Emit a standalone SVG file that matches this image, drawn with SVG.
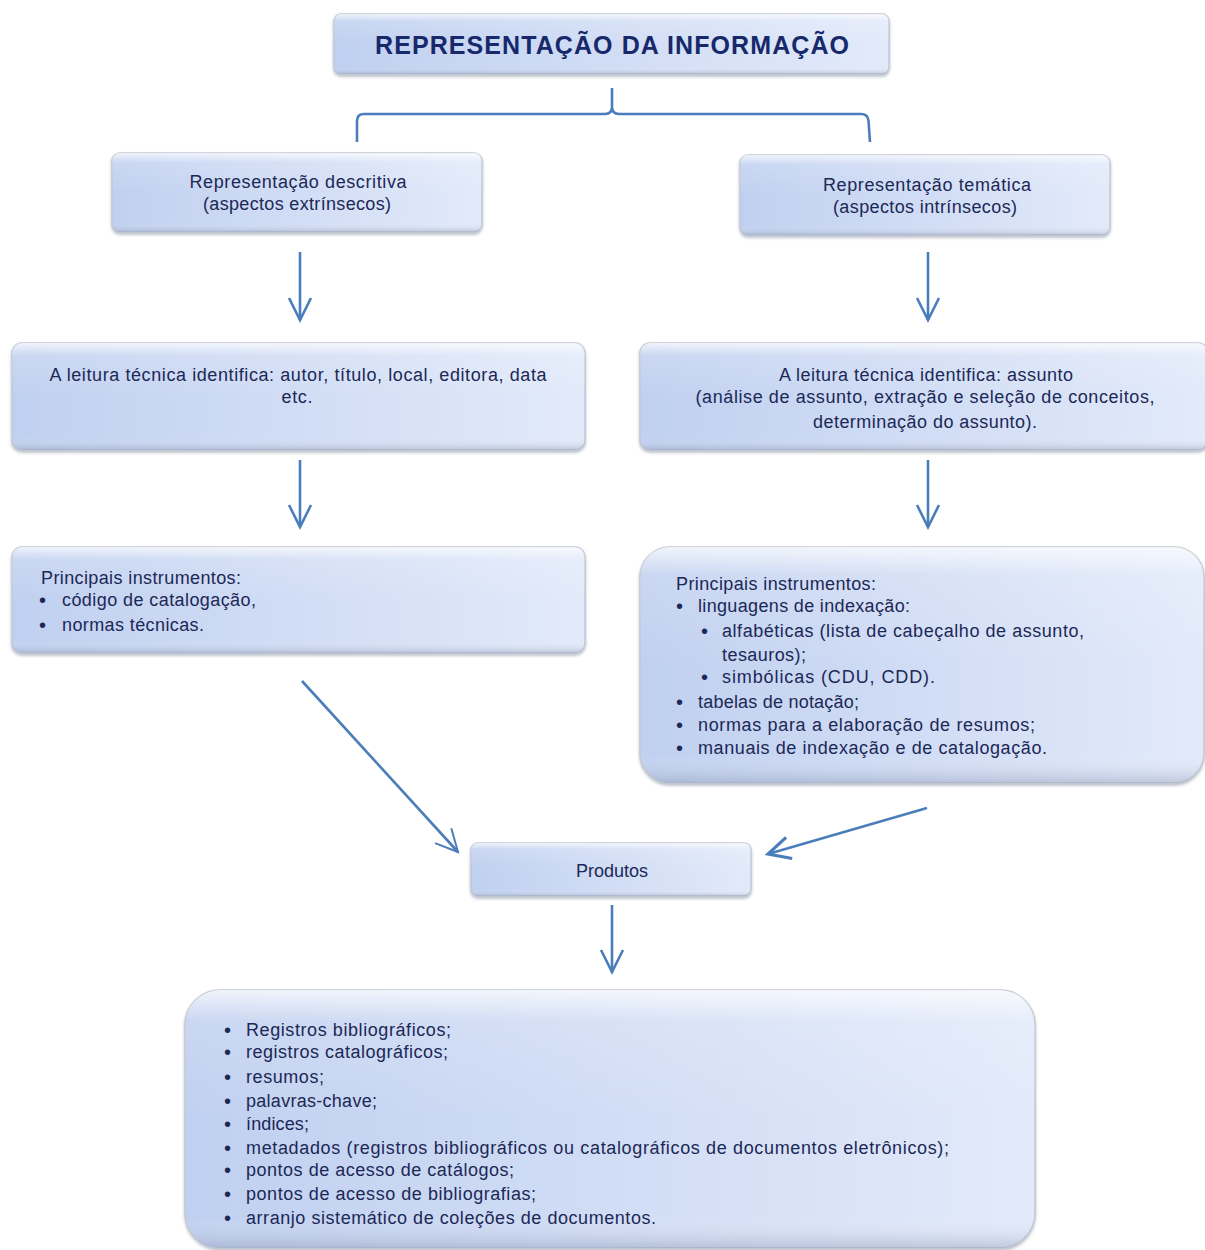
<svg xmlns="http://www.w3.org/2000/svg" width="1205" height="1250" viewBox="0 0 1205 1250">
<defs>
<linearGradient id="gBody" x1="0" y1="0" x2="1" y2="0">
<stop offset="0" stop-color="#c0d0f0"/>
<stop offset="1" stop-color="#e2eafa"/>
</linearGradient>
<linearGradient id="gBevel" x1="0" y1="0" x2="0" y2="1">
<stop offset="0" stop-color="#ffffff" stop-opacity="0.75"/>
<stop offset="0.12" stop-color="#ffffff" stop-opacity="0.15"/>
<stop offset="0.5" stop-color="#ffffff" stop-opacity="0"/>
<stop offset="0.88" stop-color="#ffffff" stop-opacity="0"/>
<stop offset="1" stop-color="#7d8aa6" stop-opacity="0.35"/>
</linearGradient>
<filter id="sh" x="-5%" y="-5%" width="110%" height="120%">
<feGaussianBlur in="SourceAlpha" stdDeviation="1.5"/>
<feOffset dx="0" dy="2" result="b"/>
<feFlood flood-color="#8a93a6" flood-opacity="0.6"/>
<feComposite in2="b" operator="in"/>
<feMerge><feMergeNode/><feMergeNode in="SourceGraphic"/></feMerge>
</filter>
<marker id="head" markerUnits="userSpaceOnUse" viewBox="0 0 26 26" refX="23" refY="13" markerWidth="26" markerHeight="26" orient="auto">
<path d="M1,2 L23,13 L1,24" fill="none" stroke="#4a7ebb" stroke-width="2.6"/>
</marker>
<marker id="headThin" markerUnits="userSpaceOnUse" viewBox="0 0 26 26" refX="23" refY="13" markerWidth="26" markerHeight="26" orient="auto">
<path d="M1,2 L23,13 L1,24" fill="none" stroke="#4a7ebb" stroke-width="2"/>
</marker>
<marker id="headThick" markerUnits="userSpaceOnUse" viewBox="0 0 26 26" refX="23" refY="13" markerWidth="26" markerHeight="26" orient="auto">
<path d="M1,2 L23,13 L1,24" fill="none" stroke="#4a7ebb" stroke-width="3.2"/>
</marker>
</defs>
<style>
.box { fill: url(#gBody); stroke: #c2c8d4; stroke-width: 1.5; filter: url(#sh); }
.bev { fill: url(#gBevel); stroke: none; }
.t { font-family: "Liberation Sans", Arial, sans-serif; font-size: 18px; fill: #1c2856; }
.b { font-family: "Liberation Sans", Arial, sans-serif; font-size: 20px; fill: #1c2856; }
.c { text-anchor: middle; }
.title { font-family: "Liberation Sans", Arial, sans-serif; font-size: 25px; font-weight: bold; fill: #17296a; text-anchor: middle; }
.con { fill: none; stroke: #4a7ebb; stroke-width: 2.6; }
</style>

<g id="connectors">
<path class="con" d="M357,142 L357,121 Q357,114 364,114 L605,114 Q612,114 612,107 L612,88 M612,107 Q612,114 619,114 L861,114 Q868,114 868.5,121 L870,142" stroke-width="3"/>
<line class="con" x1="300" y1="252" x2="300" y2="320" marker-end="url(#head)"/>
<line class="con" x1="928" y1="252" x2="928" y2="320" marker-end="url(#head)"/>
<line class="con" x1="300" y1="460" x2="300" y2="527" marker-end="url(#head)"/>
<line class="con" x1="928" y1="460" x2="928" y2="527" marker-end="url(#head)"/>
<line class="con" x1="302" y1="681" x2="458" y2="852" stroke-width="1.6" marker-end="url(#headThin)"/>
<line class="con" x1="927" y1="808" x2="768" y2="854" stroke-width="3.5" marker-end="url(#headThick)"/>
<line class="con" x1="612" y1="905" x2="612" y2="972" marker-end="url(#head)"/>
</g>

<g id="title">
<rect class="box" x="334" y="14" width="555" height="60" rx="7"/>
<rect class="bev" x="334" y="14" width="555" height="60" rx="7"/>
<text class="title" x="612" y="54" textLength="474">REPRESENTAÇÃO DA INFORMAÇÃO</text>
</g>

<g id="descritiva">
<rect class="box" x="112" y="153" width="370" height="79" rx="8"/>
<rect class="bev" x="112" y="153" width="370" height="79" rx="8"/>
<text class="t c" x="298" y="188" textLength="217">Representação  descritiva</text>
<text class="t c" x="297" y="210" textLength="188">(aspectos extrínsecos)</text>
</g>

<g id="tematica">
<rect class="box" x="740" y="155" width="370" height="80" rx="8"/>
<rect class="bev" x="740" y="155" width="370" height="80" rx="8"/>
<text class="t c" x="927" y="191" textLength="208">Representação  temática</text>
<text class="t c" x="925" y="213" textLength="184">(aspectos intrínsecos)</text>
</g>

<g id="leitura-descritiva">
<rect class="box" x="12" y="343" width="573" height="107" rx="10"/>
<rect class="bev" x="12" y="343" width="573" height="107" rx="10"/>
<text class="t c" x="298" y="381" textLength="497">A leitura técnica identifica:  autor,  título,  local,  editora,  data</text>
<text class="t c" x="297" y="403" textLength="31">etc.</text>
</g>

<g id="leitura-tematica">
<rect class="box" x="640" y="343" width="568" height="107" rx="10"/>
<rect class="bev" x="640" y="343" width="568" height="107" rx="10"/>
<text class="t c" x="926" y="381" textLength="294">A leitura técnica identifica:  assunto</text>
<text class="t c" x="925" y="403" textLength="459">(análise de  assunto,  extração  e seleção  de conceitos,</text>
<text class="t c" x="925" y="428" textLength="224">determinação  do assunto).</text>
</g>

<g id="instrumentos-descritiva">
<rect class="box" x="12" y="547" width="573" height="106" rx="10"/>
<rect class="bev" x="12" y="547" width="573" height="106" rx="10"/>
<text class="t" x="41" y="584" textLength="200">Principais instrumentos:</text>
<text class="b" x="39" y="607">•</text>
<text class="t" x="62" y="606" textLength="194">código de catalogação,</text>
<text class="b" x="39" y="632">•</text>
<text class="t" x="62" y="631" textLength="142">normas técnicas.</text>
</g>

<g id="instrumentos-tematica">
<rect class="box" x="640" y="547" width="564" height="236" rx="30"/>
<rect class="bev" x="640" y="547" width="564" height="236" rx="30"/>
<text class="t" x="676" y="590" textLength="200">Principais instrumentos:</text>
<text class="b" x="676" y="613">•</text>
<text class="t" x="698" y="612" textLength="212">linguagens de indexação:</text>
<text class="b" x="701" y="638">•</text>
<text class="t" x="722" y="637" textLength="362">alfabéticas  (lista de cabeçalho  de assunto,</text>
<text class="t" x="722" y="661" textLength="84">tesauros);</text>
<text class="b" x="701" y="684">•</text>
<text class="t" x="722" y="683" textLength="213">simbólicas (CDU, CDD).</text>
<text class="b" x="676" y="709">•</text>
<text class="t" x="698" y="708" textLength="161">tabelas  de notação;</text>
<text class="b" x="676" y="732">•</text>
<text class="t" x="698" y="731" textLength="337">normas para a elaboração  de resumos;</text>
<text class="b" x="676" y="755">•</text>
<text class="t" x="698" y="754" textLength="349">manuais de indexação  e de catalogação.</text>
</g>

<g id="produtos">
<rect class="box" x="471" y="843" width="280" height="53" rx="7"/>
<rect class="bev" x="471" y="843" width="280" height="53" rx="7"/>
<text class="t c" x="612" y="877" textLength="72">Produtos</text>
</g>

<g id="lista-produtos">
<rect class="box" x="185" y="990" width="850" height="258" rx="35"/>
<rect class="bev" x="185" y="990" width="850" height="258" rx="35"/>
<text class="b" x="224" y="1037">•</text>
<text class="t" x="246" y="1036" textLength="205">Registros bibliográficos;</text>
<text class="b" x="224" y="1059">•</text>
<text class="t" x="246" y="1058" textLength="202">registros catalográficos;</text>
<text class="b" x="224" y="1084">•</text>
<text class="t" x="246" y="1083" textLength="78">resumos;</text>
<text class="b" x="224" y="1108">•</text>
<text class="t" x="246" y="1107" textLength="131">palavras-chave;</text>
<text class="b" x="224" y="1131">•</text>
<text class="t" x="246" y="1130" textLength="63">índices;</text>
<text class="b" x="224" y="1155">•</text>
<text class="t" x="246" y="1154" textLength="703">metadados  (registros bibliográficos ou catalográficos  de documentos  eletrônicos);</text>
<text class="b" x="224" y="1177">•</text>
<text class="t" x="246" y="1176" textLength="268">pontos de acesso  de catálogos;</text>
<text class="b" x="224" y="1201">•</text>
<text class="t" x="246" y="1200" textLength="290">pontos de acesso  de bibliografias;</text>
<text class="b" x="224" y="1225">•</text>
<text class="t" x="246" y="1224" textLength="410">arranjo sistemático  de coleções  de documentos.</text>
</g>
</svg>
